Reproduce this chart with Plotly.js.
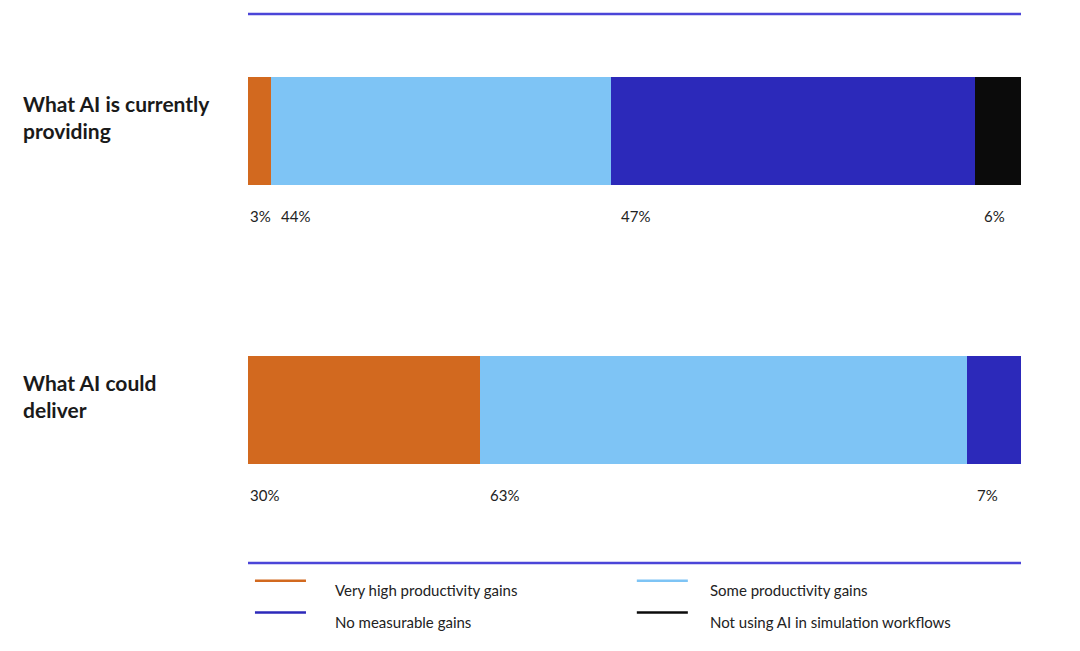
<!DOCTYPE html>
<html><head><meta charset="utf-8">
<script src="https://cdn.plot.ly/plotly-3.0.1.min.js"></script>
<style>body{margin:0;background:#fff}</style></head>
<body><div id="c" style="width:1080px;height:651px"></div>
<script>
const groups = ["What AI is currently<br>providing", "What AI could<br>deliver"];
const seriesNames = ["Very high productivity gains","Some productivity gains","No measurable gains","Not using AI in simulation workflows"];
const colors = ["#D2691F","#7EC4F5","#2C29BA","#0B0B0B"];
const current = [3,44,47,6];
const could = [30,63,7,0];
const vals = [current, could];

const traces = seriesNames.map((n,i)=>({
  type:'bar', orientation:'h', name:n,
  y:[0,1], x:[current[i], could[i]], width:0.39,
  marker:{color:colors[i]}, hoverinfo:'x', showlegend:false
}));

const ann = [], shapes = [];
const lineY = [-0.419, 0.549];
vals.forEach((arr,g)=>{
  let cum=0;
  arr.forEach((v)=>{
    if(v>0){
      ann.push({x:cum+(cum===0?0:1), y:g+0.305, xref:'x', yref:'y', text:v+'%', showarrow:false,
        xanchor:'left', font:{size:15,color:'#222'}});
    }
    cum+=v;
  });
  ann.push({x:-0.294, y:g-0.05, xref:'paper', yref:'y', text:'<b>'+groups[g]+'</b>', showarrow:false,
    xanchor:'left', align:'left', font:{size:21,color:'#1a1a1a'}});
  shapes.push({type:'line', xref:'x', yref:'y', x0:0, x1:100, y0:g+lineY[g], y1:g+lineY[g], line:{color:'#4B45D8',width:2.5}});
});
// legend
const legPos = [[0.009,0.108,0.101],[0.503,0.108,0.092],[0.009,0.059,0.101],[0.503,0.059,0.092]];
[0,1,2,3].forEach((s,k)=>{
  const [px,py,off]=legPos[k];
  shapes.push({type:'line', xref:'paper', yref:'paper', x0:px, x1:px+0.066, y0:py, y1:py, line:{color:colors[s],width:2.5}});
  ann.push({x:px+off, y:py, xref:'paper', yref:'paper', yanchor:'middle', text:seriesNames[s], showarrow:false, xanchor:'left', font:{size:15,color:'#222'}, yshift:-9});
});

Plotly.newPlot('c', traces, {
  barmode:'stack', width:1080, height:651,
  margin:{l:248,r:59,t:0,b:0},
  paper_bgcolor:'#fff', plot_bgcolor:'#fff',
  font:{family:'Lato, sans-serif'},
  xaxis:{range:[0,100], visible:false, fixedrange:true},
  yaxis:{range:[1.864,-0.4695], visible:false, fixedrange:true},
  annotations:ann, shapes:shapes
}, {displayModeBar:false, staticPlot:true});
</script></body></html>
